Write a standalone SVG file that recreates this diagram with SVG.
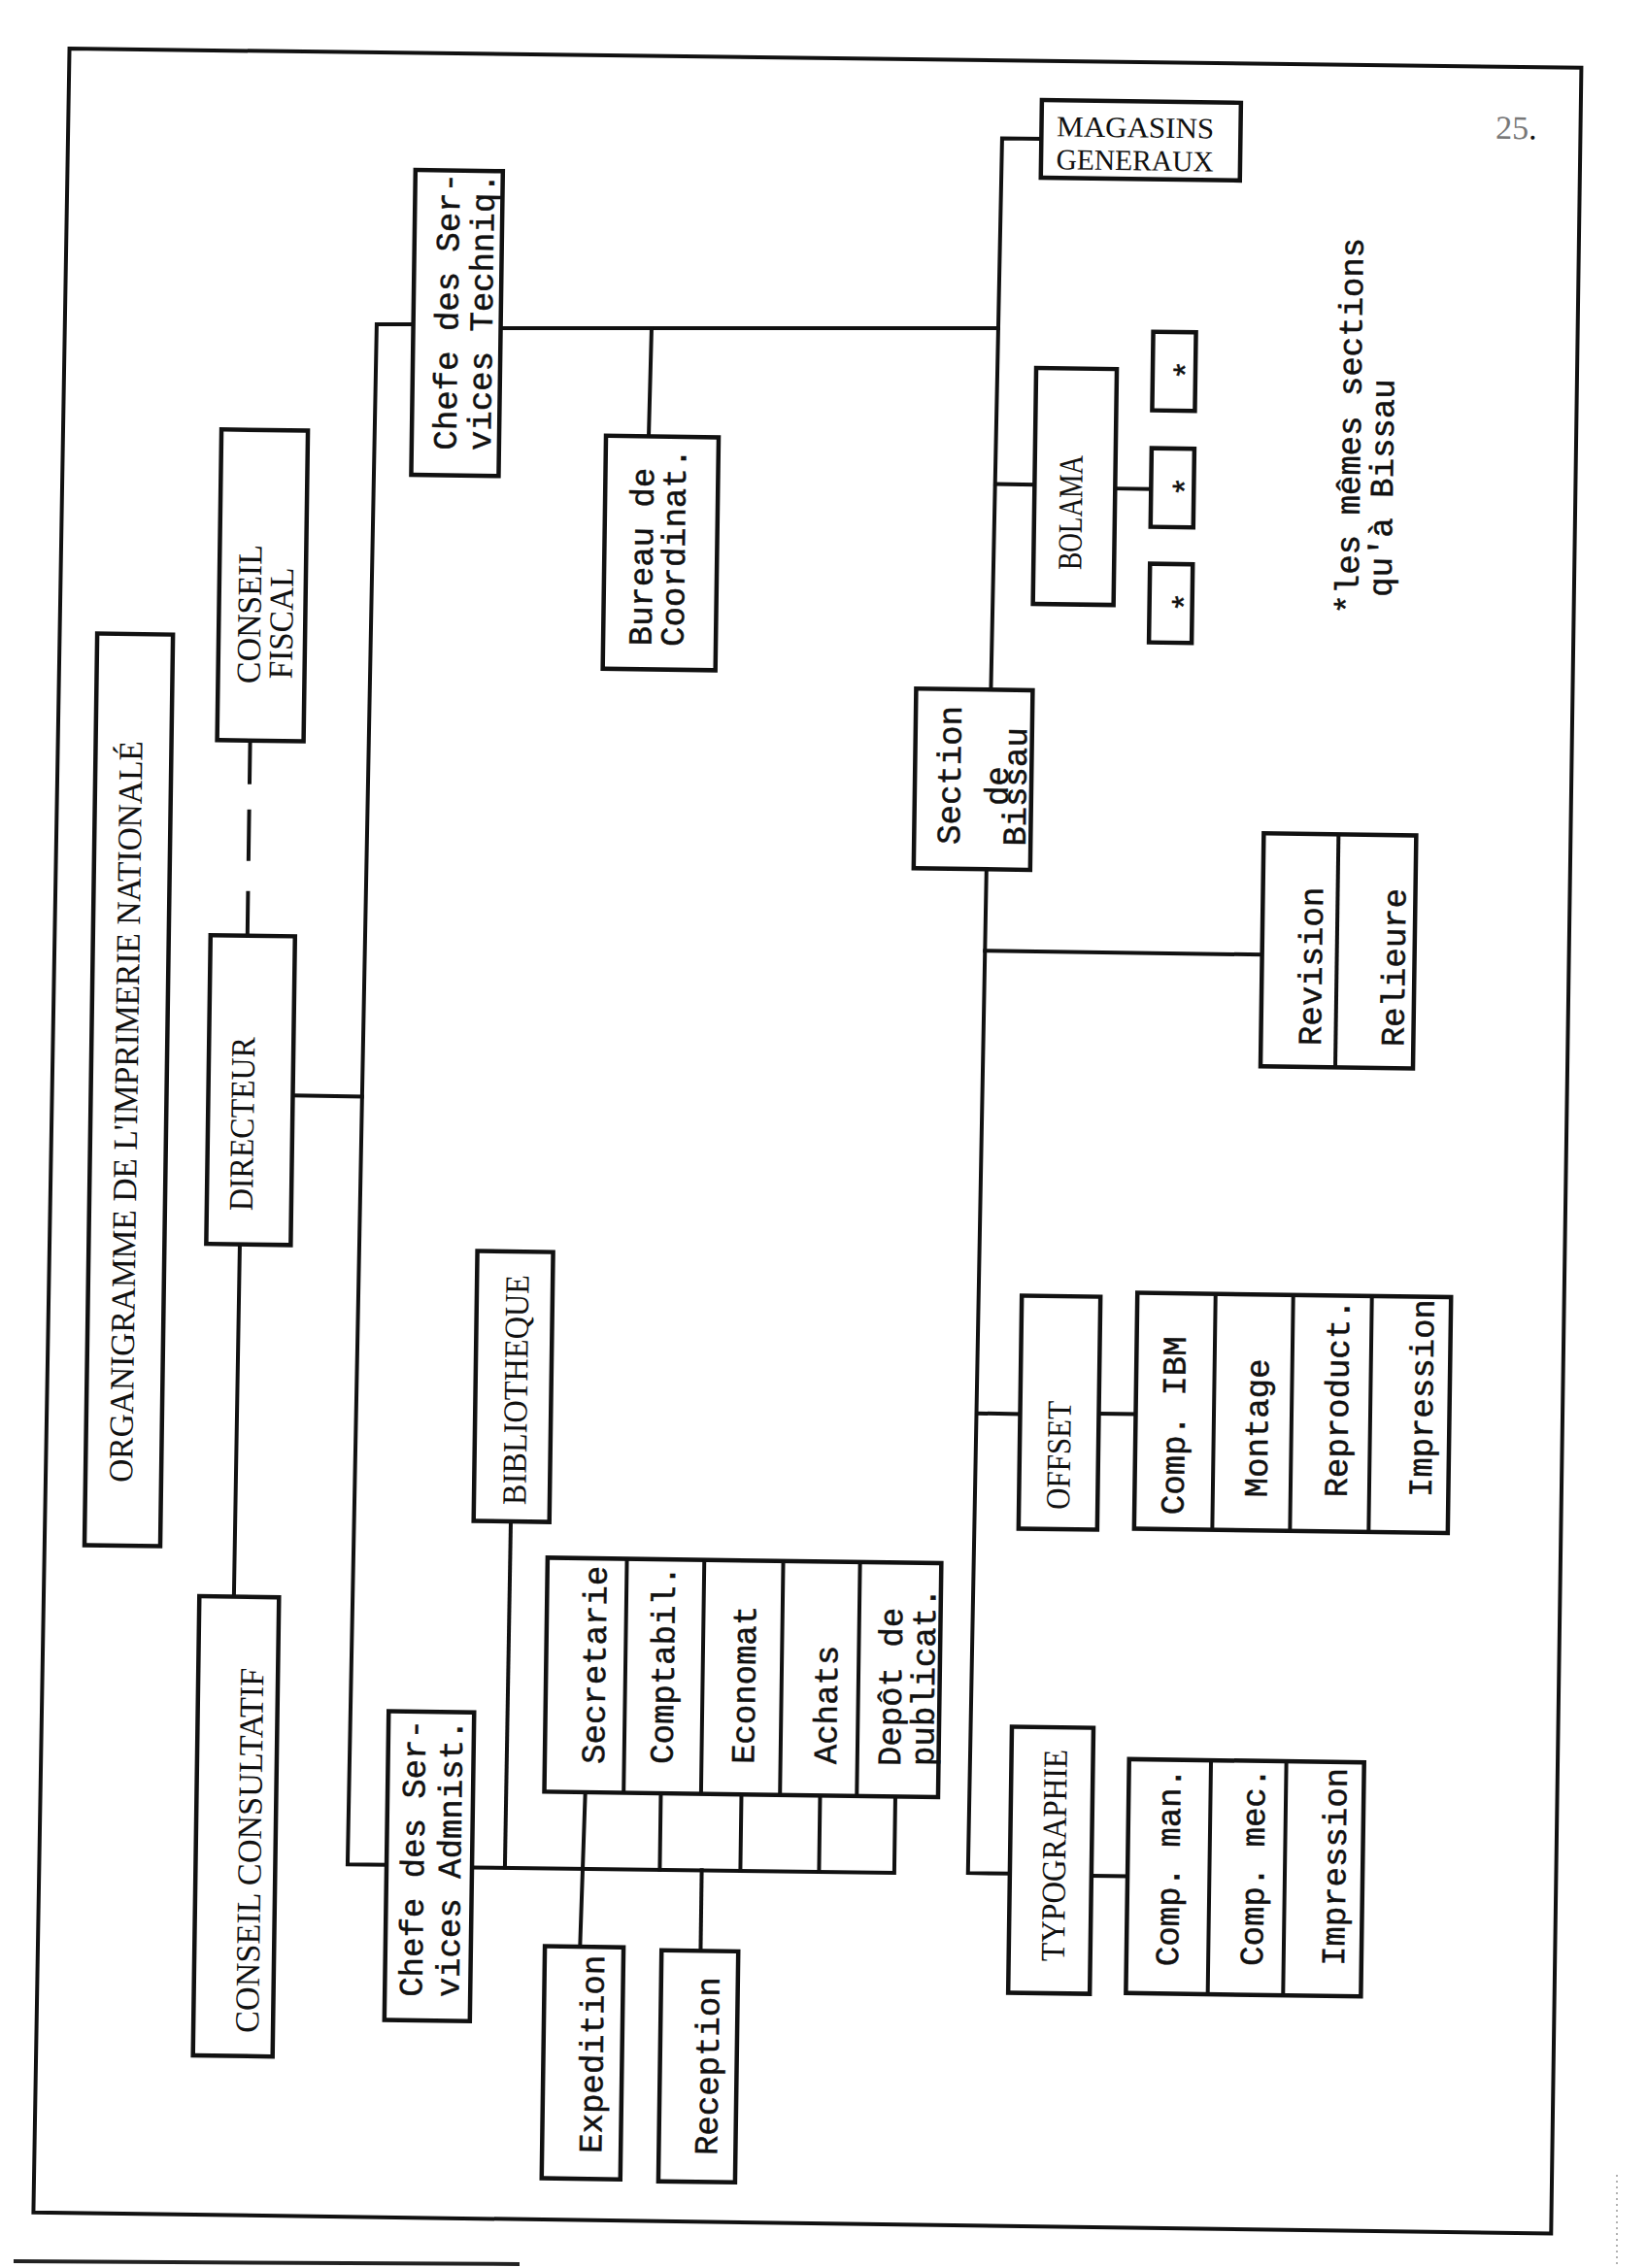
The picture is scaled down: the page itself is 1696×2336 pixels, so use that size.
<svg xmlns="http://www.w3.org/2000/svg" width="1696" height="2336" viewBox="0 0 1696 2336">
<style>
.b{fill:#fff;stroke:#111;stroke-width:4.5}
.d{fill:none;stroke:#111;stroke-width:4}
.l{fill:none;stroke:#111;stroke-width:4;stroke-linecap:square}
.s{font-family:"Liberation Serif","Times New Roman",serif;font-size:35px;fill:#111}
.m{font-family:"Liberation Mono","Courier New",monospace;font-size:34px;fill:#111;stroke:#111;stroke-width:0.5}
.c{text-anchor:middle}
</style>
<rect width="1696" height="2336" fill="#fff"/>
<g transform="rotate(0.8 848 1168)">
<polygon class="d" points="56,61 1613,59 1613,2290 50,2290"/>
<g id="connectors">
<path class="d" d="M252,771V816M252,842V895M252,926V972"/>
<path class="l" d="M248.6,1290L247.6,1653"/>
<path class="l" d="M301,1136H372.4"/>
<path class="l" d="M414,340L376.3,340.4L368.5,1927H408.6"/>
<path class="l" d="M504,342.6L1016.4,335.5"/>
<path class="l" d="M659.4,341L658,452.4"/>
<path class="l" d="M1058,140H1017.6L1014,708"/>
<path class="l" d="M1015.6,496.2H1056"/>
<path class="l" d="M1139,499H1176"/>
<path class="l" d="M1012,893L1007.4,1927H1050.5"/>
<path class="l" d="M1011.6,977H1297"/>
<path class="l" d="M1010,1453.5H1054.5"/>
<path class="l" d="M1135.5,1452H1173.5"/>
<path class="l" d="M1134.5,1928H1171.7"/>
<path class="l" d="M531.6,1571.5L530.5,1928"/>
<path class="l" d="M496.6,1928.5L931.5,1928V1849.3"/>
<path class="l" d="M612.2,1849.3L609,2008.5"/>
<path class="l" d="M690,1849.3V1928M773,1849.3V1928M854,1849.3V1928"/>
<path class="l" d="M733.2,1928V2011"/>
</g>
<g id="titre">
<rect class="b" x="93" y="663" width="78" height="939"/>
<text class="s c" transform="translate(141,1155) rotate(-90)" textLength="764" lengthAdjust="spacingAndGlyphs">ORGANIGRAMME DE L'IMPRIMERIE NATIONALÉ</text>
</g>
<g id="conseil-fiscal">
<rect class="b" x="218" y="451" width="89" height="320"/>
<text class="s c" transform="translate(261,640.8) rotate(-90)" textLength="143" lengthAdjust="spacingAndGlyphs">CONSEIL</text>
<text class="s c" transform="translate(294,649.8) rotate(-90)" textLength="115" lengthAdjust="spacingAndGlyphs">FISCAL</text>
</g>
<g id="directeur">
<rect class="b" x="214" y="972" width="87" height="318"/>
<text class="s c" transform="translate(261,1166) rotate(-90)" textLength="179" lengthAdjust="spacingAndGlyphs">DIRECTEUR</text>
</g>
<g id="conseil-consultatif">
<rect class="b" x="212" y="1653" width="82" height="473"/>
<text class="s c" transform="translate(279,1914) rotate(-90)" textLength="376" lengthAdjust="spacingAndGlyphs">CONSEIL CONSULTATIF</text>
</g>
<g id="chefe-techniq">
<rect class="b" x="414" y="181" width="90" height="314"/>
<text class="m" transform="translate(459.7,469) rotate(-90)">Chefe des Ser-</text>
<text class="m" transform="translate(495.2,469) rotate(-90)">vices Techniq.</text>
</g>
<g id="bureau">
<rect class="b" x="614" y="452" width="116" height="240"/>
<text class="m" transform="translate(663.6,668) rotate(-90)">Bureau de</text>
<text class="m" transform="translate(696.6,668) rotate(-90)">Coordinat.</text>
</g>
<g id="magasins">
<rect class="b" x="1058" y="100" width="205" height="80"/>
<text class="s c" x="1154.7" y="137" style="font-size:30px" textLength="162" lengthAdjust="spacingAndGlyphs">MAGASINS</text>
<text class="s c" x="1154.7" y="171" style="font-size:30px" textLength="162" lengthAdjust="spacingAndGlyphs">GENERAUX</text>
</g>
<g id="bolama">
<rect class="b" x="1056" y="376" width="83" height="243"/>
<text class="s c" transform="translate(1105,524.4) rotate(-90)" textLength="118" lengthAdjust="spacingAndGlyphs">BOLAMA</text>
</g>
<g id="bolama-sections">
<rect class="b" x="1176" y="337" width="44" height="81"/>
<rect class="b" x="1176" y="457" width="44" height="81"/>
<rect class="b" x="1176" y="576" width="44" height="81"/>
<text class="m c" transform="translate(1222,376) rotate(-90)">*</text>
<text class="m c" transform="translate(1223,496) rotate(-90)">*</text>
<text class="m c" transform="translate(1224,615) rotate(-90)">*</text>
</g>
<g id="note">
<text class="m" transform="translate(1390.8,625) rotate(-90)">*les mêmes sections</text>
<text class="m" transform="translate(1424.7,606.8) rotate(-90)">qu'à Bissau</text>
</g>
<g id="page">
<text class="s" x="1525.7" y="133.3" style="font-size:34px"><tspan fill="#777">25</tspan>.</text>
</g>
<g id="section-bissau">
<rect class="b" x="937" y="708" width="120" height="185"/>
<text class="m" transform="translate(983.8,868) rotate(-90)">Section</text>
<text class="m" transform="translate(1032.8,827.5) rotate(-90)">de</text>
<text class="m" transform="translate(1051.5,869) rotate(-90)">Bissau</text>
</g>
<g id="revision-relieure">
<rect class="b" x="1297" y="852" width="157" height="240"/>
<path class="d" d="M1374,852V1092"/>
<text class="m" transform="translate(1358.6,1070) rotate(-90)">Revision</text>
<text class="m" transform="translate(1444,1070) rotate(-90)">Relieure</text>
</g>
<g id="offset">
<rect class="b" x="1054.5" y="1331.6" width="81" height="240"/>
<text class="s c" transform="translate(1106.5,1495.5) rotate(-90)" textLength="112" lengthAdjust="spacingAndGlyphs">OFFSET</text>
</g>
<g id="offset-sections">
<rect class="b" x="1173.5" y="1327" width="323" height="243"/>
<path class="d" d="M1254,1327V1570M1334,1327V1570M1415,1327V1570"/>
<text class="m" transform="translate(1224,1555) rotate(-90)">Comp. IBM</text>
<text class="m" transform="translate(1309.6,1536) rotate(-90)">Montage</text>
<text class="m" transform="translate(1392,1535) rotate(-90)">Reproduct.</text>
<text class="m" transform="translate(1479,1533.5) rotate(-90)">Impression</text>
</g>
<g id="typographie">
<rect class="b" x="1050.5" y="1775.7" width="84" height="274"/>
<text class="s c" transform="translate(1107.5,1907.6) rotate(-90)" textLength="218" lengthAdjust="spacingAndGlyphs">TYPOGRAPHIE</text>
</g>
<g id="typo-sections">
<rect class="b" x="1171.7" y="1807.4" width="242" height="241"/>
<path class="d" d="M1256,1807.4V2048.4M1333.6,1807.4V2048.4"/>
<text class="m" transform="translate(1225,2020) rotate(-90)">Comp. man.</text>
<text class="m" transform="translate(1312,2018.5) rotate(-90)">Comp. mec.</text>
<text class="m" transform="translate(1396,2017.5) rotate(-90)">Impression</text>
</g>
<g id="chefe-admnist">
<rect class="b" x="408.6" y="1768.7" width="88" height="318"/>
<text class="m" transform="translate(446.8,2062.5) rotate(-90)">Chefe des Ser-</text>
<text class="m" transform="translate(484.8,2062.5) rotate(-90)">vices Admnist.</text>
</g>
<g id="bibliotheque">
<rect class="b" x="493.3" y="1293.5" width="78" height="278"/>
<text class="s c" transform="translate(546.5,1435.9) rotate(-90)" textLength="237" lengthAdjust="spacingAndGlyphs">BIBLIOTHEQUE</text>
</g>
<g id="admin-sections">
<rect class="b" x="570" y="1608.3" width="405.5" height="241"/>
<path class="d" d="M651.7,1608.3V1849.3M731.4,1608.3V1849.3M812.7,1608.3V1849.3M891.8,1608.3V1849.3"/>
<text class="m" transform="translate(631,1820) rotate(-90)">Secretarie</text>
<text class="m" transform="translate(701.6,1819) rotate(-90)">Comptabil.</text>
<text class="m" transform="translate(785.4,1818) rotate(-90)">Economat</text>
<text class="m" transform="translate(870,1817) rotate(-90)">Achats</text>
<text class="m" transform="translate(936,1818) rotate(-90)">Depôt de</text>
<text class="m" transform="translate(970,1817.5) rotate(-90)">publicat.</text>
</g>
<g id="expedition">
<rect class="b" x="572.8" y="2008.5" width="81" height="239"/>
<text class="m" transform="translate(634,2221) rotate(-90)">Expedition</text>
</g>
<g id="reception">
<rect class="b" x="693" y="2011" width="79" height="238"/>
<text class="m" transform="translate(753,2221.5) rotate(-90)">Reception</text>
</g>
</g>
<path d="M14,2329L535,2332" stroke="#222" stroke-width="4" fill="none"/>
<path d="M1665,2240V2336" stroke="#999" stroke-width="1.5" stroke-dasharray="2 4" fill="none"/>
</svg>
